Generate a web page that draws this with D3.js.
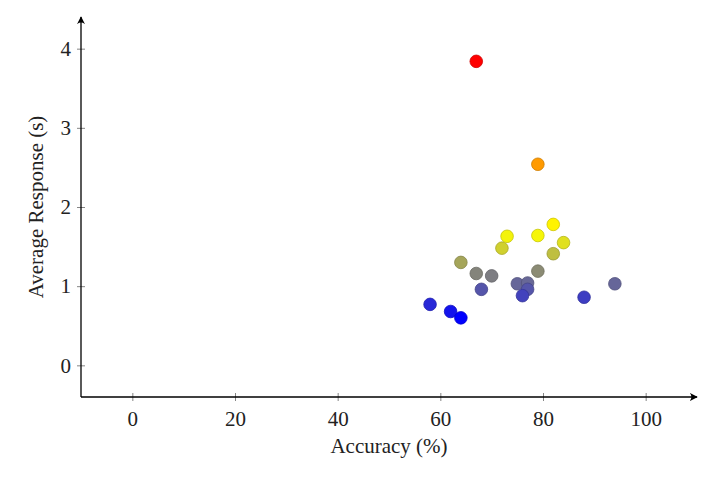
<html>
<head>
<script src="https://d3js.org/d3.v7.min.js"></script>
<style>
  body { margin: 0; background: #fff; }
  text { font-family: "Liberation Serif", "DejaVu Serif", serif; fill: #222; }
</style>
</head>
<body>
<script>
// data
var accuracy = [58, 62, 64, 64, 67, 67, 68, 70, 72, 73, 75, 77, 77, 76, 79, 79, 79, 82, 82, 84, 88, 94];
var response = [0.77, 0.68, 0.60, 1.30, 3.84, 1.16, 0.96, 1.13, 1.48, 1.63, 1.03, 1.04, 0.96, 0.88, 2.54, 1.64, 1.19, 1.78, 1.41, 1.55, 0.86, 1.03];
var xTicks = [0, 20, 40, 60, 80, 100];
var yTicks = [0, 1, 2, 3, 4];
var hotColors = ["blue", "yellow", "#ff8000", "red"]; // pgfplots "hot" colormap

var w = 715, h = 482;
var mLeft = 81, mRight = 697, mTop = 17, mBottom = 397;

var data = accuracy.map(function(a, i){ return {x: a, y: response[i]}; });

var xScale = d3.scaleLinear().domain([-10, 110]).range([mLeft, mRight]);
var yScale = d3.scaleLinear().domain([-0.4, 4.4]).range([mBottom, mTop]);

var ymin = d3.min(response), ymax = d3.max(response), r = ymax - ymin;
var color = d3.scaleLinear()
  .domain([ymin, ymin + r/3, ymin + 2*r/3, ymax])
  .range(hotColors)
  .interpolate(d3.interpolateRgb);

var svg = d3.select("body").append("svg").attr("width", w).attr("height", h);

svg.append("defs").append("marker")
  .attr("id", "arrow").attr("viewBox", "0 0 10 10")
  .attr("refX", 9).attr("refY", 5)
  .attr("markerWidth", 8).attr("markerHeight", 8)
  .attr("markerUnits", "userSpaceOnUse")
  .attr("orient", "auto")
  .append("path").attr("d", "M0,0 Q4,5 0,10 L10,5 Z").attr("fill", "#000");

// axes
var xAxis = d3.axisBottom(xScale).tickValues(xTicks).tickSize(4).tickPadding(10);
var yAxis = d3.axisLeft(yScale).tickValues(yTicks).tickFormat(d3.format("d")).tickSize(4).tickPadding(6);

var gx = svg.append("g").attr("transform", "translate(0," + mBottom + ")").call(xAxis);
var gy = svg.append("g").attr("transform", "translate(" + mLeft + ",0)").call(yAxis);

[gx, gy].forEach(function(g){
  g.select(".domain").remove();
  g.selectAll(".tick text").style("font-family", "Liberation Serif, DejaVu Serif, serif")
    .style("font-size", "21px").attr("fill", "#222");
  g.selectAll(".tick line").attr("stroke", "#666").attr("stroke-width", 0.8);
});
gx.selectAll(".tick line").attr("y1", -4).attr("y2", 4);
gy.selectAll(".tick line").attr("x1", -4).attr("x2", 4);
gy.selectAll(".tick text").attr("x", -10);

svg.append("line").attr("x1", mLeft).attr("x2", mRight).attr("y1", mBottom).attr("y2", mBottom)
  .attr("stroke", "#000").attr("stroke-width", 1.3).attr("marker-end", "url(#arrow)");
svg.append("line").attr("x1", mLeft).attr("x2", mLeft).attr("y1", mBottom).attr("y2", mTop)
  .attr("stroke", "#000").attr("stroke-width", 1.3).attr("marker-end", "url(#arrow)");

// points
svg.append("g").selectAll("circle").data(data).enter().append("circle")
  .attr("cx", function(d){ return xScale(d.x); })
  .attr("cy", function(d){ return yScale(d.y); })
  .attr("r", 6.3)
  .attr("fill", function(d){ return color(d.y); })
  .attr("stroke", function(d){ return d3.color(color(d.y)).darker(0.6); })
  .attr("stroke-width", 0.8);

// labels
svg.append("text").attr("x", (xScale(0) + xScale(100)) / 2).attr("y", 453)
  .attr("text-anchor", "middle").style("font-size", "21px").text("Accuracy (%)");
svg.append("text").attr("transform", "translate(43," + yScale(2) + ") rotate(-90)")
  .attr("text-anchor", "middle").style("font-size", "21px").text("Average Response (s)");
</script>
</body>
</html>
